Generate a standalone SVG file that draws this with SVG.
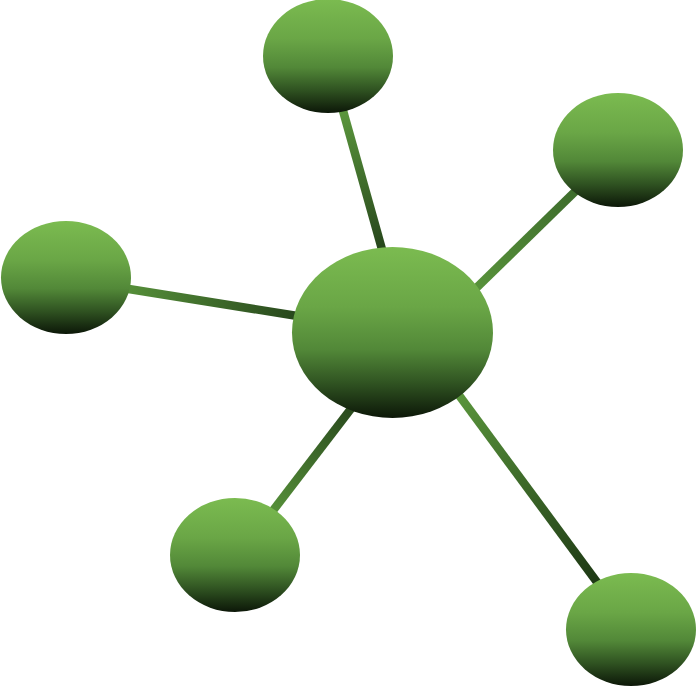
<svg xmlns="http://www.w3.org/2000/svg" width="700" height="700" viewBox="0 0 700 700">
<defs>
<linearGradient id="ball" x1="0" y1="0" x2="0" y2="1">
<stop offset="0" stop-color="#7bbb50"/>
<stop offset="0.35" stop-color="#6aa646"/>
<stop offset="0.6" stop-color="#528838"/>
<stop offset="0.8" stop-color="#2f5221"/>
<stop offset="1" stop-color="#0c1708"/>
</linearGradient>
<linearGradient id="g1" gradientUnits="userSpaceOnUse" x1="340" y1="105" x2="385" y2="255">
<stop offset="0" stop-color="#5d9a3e"/><stop offset="1" stop-color="#24421a"/>
</linearGradient>
<linearGradient id="g2" gradientUnits="userSpaceOnUse" x1="465" y1="299" x2="590" y2="177">
<stop offset="0" stop-color="#5a963c"/><stop offset="1" stop-color="#3a672a"/>
</linearGradient>
<linearGradient id="g3" gradientUnits="userSpaceOnUse" x1="110" y1="286" x2="310" y2="318">
<stop offset="0" stop-color="#5a963c"/><stop offset="1" stop-color="#24421a"/>
</linearGradient>
<linearGradient id="g4" gradientUnits="userSpaceOnUse" x1="360" y1="397" x2="265" y2="521">
<stop offset="0" stop-color="#24421a"/><stop offset="1" stop-color="#5a963c"/>
</linearGradient>
<linearGradient id="g5" gradientUnits="userSpaceOnUse" x1="450" y1="383" x2="605" y2="593">
<stop offset="0" stop-color="#5d9a3e"/><stop offset="1" stop-color="#1a3312"/>
</linearGradient>
</defs>
<style>
.node{fill:url(#ball)}
.link{stroke-width:8.5;fill:none}
</style>
<g id="connectors">
<line class="link" x1="340" y1="100" x2="385" y2="260" stroke="url(#g1)"/>
<line class="link" x1="465" y1="299" x2="590" y2="177" stroke="url(#g2)"/>
<line class="link" x1="110" y1="286" x2="310" y2="318" stroke="url(#g3)"/>
<line class="link" x1="360" y1="397" x2="265" y2="521" stroke="url(#g4)"/>
<line class="link" x1="450" y1="383" x2="605" y2="593" stroke="url(#g5)"/>
</g>
<g id="center"><ellipse class="node" cx="392.5" cy="332.5" rx="100.5" ry="85.5"/></g>
<g id="top"><ellipse class="node" cx="328" cy="56" rx="65" ry="57"/></g>
<g id="topright"><ellipse class="node" cx="618" cy="150" rx="65" ry="57"/></g>
<g id="left"><ellipse class="node" cx="66" cy="277.5" rx="65" ry="56.5"/></g>
<g id="bottomleft"><ellipse class="node" cx="235" cy="555" rx="65" ry="57"/></g>
<g id="bottomright"><ellipse class="node" cx="631" cy="629.5" rx="65" ry="56.5"/></g>
</svg>
